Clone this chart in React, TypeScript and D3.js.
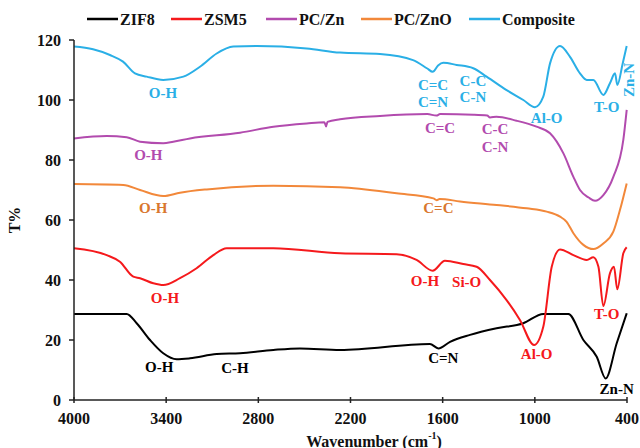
import React from "react";
import * as d3 from "d3";

const seriesNames = ["ZIF8", "ZSM5", "PC/Zn", "PC/ZnO", "Composite"];
const seriesColors = ["#000000", "#F5191C", "#B24BAE", "#F2883A", "#2AAFE6"];
const labelColors = ["#000000", "#F5191C", "#B24BAE", "#D9772F", "#2AAFE6"];

const zif8: [number, number][] = [
  [4000, 28.7], [3657, 28.7], [3592, 25.6], [3505, 20], [3419, 15.6], [3332, 13.6], [3245, 13.9],
  [3071, 15.3], [2919, 15.6], [2702, 16.7], [2529, 17.2], [2268, 16.7], [1683, 18.7], [1628, 17.2],
  [1552, 19.4], [1422, 21.7], [1249, 23.9], [1075, 25.6], [945, 28.7], [782, 28.7], [684, 20],
  [597, 14.4], [539, 7.2], [467, 18.9], [402, 28.9],
];
const zsm5: [number, number][] = [
  [4000, 50.6], [3787, 48.3], [3701, 46.1], [3614, 41.1], [3570, 40.6], [3484, 38.9], [3419, 38.3],
  [3310, 40.6], [3202, 43.9], [3093, 48.3], [3006, 50.6], [2702, 50.6], [2268, 48.9], [1900, 48.6],
  [1770, 46.7], [1665, 43.1], [1585, 46.4], [1466, 45.3], [1379, 44.4], [1292, 40], [1184, 33.3],
  [1097, 26.7], [1005, 18.3], [945, 24.4], [890, 44.4], [836, 50.2], [749, 48.3], [662, 46.7],
  [619, 47.6], [586, 44.4], [554, 31.3], [511, 42.2], [485, 44.4], [463, 36.9], [424, 48.9], [402, 50.9],
];
const pcZn: [number, number][] = [
  [4000, 87.2], [3787, 88], [3657, 87.6], [3570, 86.1], [3419, 85.6], [3354, 86.1], [3245, 87.2],
  [2919, 89.1], [2702, 91.1], [2485, 92.2], [2370, 92.6], [2359, 91.2], [2350, 92.7], [2268, 93.6],
  [2008, 94.7], [1700, 95.3], [1640, 94.8], [1617, 95.3], [1400, 95.1], [1310, 94.8], [1292, 94.2],
  [1250, 94.4], [1119, 93.1], [989, 91.1], [901, 88.9], [814, 82.2], [749, 74.4], [706, 70],
  [650, 67.5], [608, 66.4], [554, 68.3], [489, 74.4], [424, 86.7], [402, 96.7],
];
const pcZnO: [number, number][] = [
  [4000, 72], [3679, 71.7], [3570, 70], [3419, 68], [3310, 69.1], [3136, 70.2], [2702, 71.4],
  [2268, 70.9], [1900, 68.9], [1660, 67.2], [1639, 66.6], [1620, 67], [1487, 66.2], [1249, 65],
  [1053, 63.9], [923, 62.8], [836, 61.1], [793, 59.4], [749, 55.6], [684, 51.7], [619, 50.3],
  [554, 52.2], [489, 56.1], [446, 63.3], [402, 72.2],
];
const composite: [number, number][] = [
  [4000, 117.8], [3876, 116.9], [3766, 115], [3681, 112.8], [3603, 108.9], [3527, 107.8], [3419, 106.7],
  [3288, 107.8], [3180, 111.1], [3071, 115.5], [2963, 117.8], [2811, 118], [2485, 117.2], [2268, 115.8],
  [2008, 115.3], [1793, 113.3], [1700, 110.5], [1665, 109.4], [1630, 111.5], [1596, 112.4], [1509, 111.7],
  [1401, 110.6], [1314, 107.8], [1184, 103.3], [1075, 100], [999, 97.6], [945, 101.1], [901, 112.2],
  [836, 118], [771, 114.4], [706, 108.9], [662, 106.7], [619, 106.7], [554, 101.7], [511, 105.6],
  [478, 108.9], [463, 105], [428, 112.2], [402, 118],
];
const seriesData = [zif8, zsm5, pcZn, pcZnO, composite];

const xTicks = [4000, 3400, 2800, 2200, 1600, 1000, 400];
const yTicks = [0, 20, 40, 60, 80, 100, 120];

// annotation: [text, wavenumber, T%, series index, rotated]
const annotations: [string, number, number, number, boolean][] = [
  ["O-H", 3421, 102.4, 4, false],
  ["C=C", 1663, 105, 4, false],
  ["C=N", 1663, 99.4, 4, false],
  ["C-C", 1403, 106.4, 4, false],
  ["C-N", 1403, 101.1, 4, false],
  ["Al-O", 923, 94.1, 4, false],
  ["T-O", 532, 97.6, 4, false],
  ["Zn-N", 387, 106.7, 4, true],
  ["O-H", 3516, 81.7, 2, false],
  ["C=C", 1617, 90.6, 2, false],
  ["C-C", 1259, 90.2, 2, false],
  ["C-N", 1259, 84.4, 2, false],
  ["O-H", 3484, 63.9, 3, false],
  ["C=C", 1628, 63.9, 3, false],
  ["O-H", 3408, 34.1, 1, false],
  ["O-H", 1715, 39.7, 1, false],
  ["Si-O", 1444, 39.2, 1, false],
  ["Al-O", 988, 15.2, 1, false],
  ["T-O", 532, 28.7, 1, false],
  ["O-H", 3445, 11.1, 0, false],
  ["C-H", 2952, 10.8, 0, false],
  ["C=N", 1596, 13.9, 0, false],
  ["Zn-N", 467, 3.7, 0, false],
];

const W = 640;
const H = 448;
const left = 74;
const right = 627;
const top = 40;
const bottom = 400;
const font = "'Liberation Serif', 'Times New Roman', serif";

export default function App() {
  const x = d3.scaleLinear().domain([4000, 400]).range([left, right]);
  const y = d3.scaleLinear().domain([0, 120]).range([bottom, top]);
  const line = d3
    .line<[number, number]>()
    .x((d) => x(d[0]))
    .y((d) => y(d[1]))
    .curve(d3.curveMonotoneX);

  const legendX = [87, 171, 266, 361, 469];
  return (
    <svg width={W} height={H} style={{ position: "absolute", left: 0, top: 0, background: "#fff" }}
      fontFamily={font} fontWeight="bold">
      {/* legend */}
      {seriesNames.map((n, i) => (
        <g key={n}>
          <line x1={legendX[i]} x2={legendX[i] + 31} y1={19} y2={19} stroke={seriesColors[i]} strokeWidth={2.5} />
          <text x={legendX[i] + 33} y={19} dominantBaseline="central" fontSize={16} fill="#111">{n}</text>
        </g>
      ))}
      {/* series */}
      {seriesData.map((d, i) => (
        <path key={i} d={line(d) || ""} fill="none" stroke={seriesColors[i]} strokeWidth={2} strokeLinejoin="round" />
      ))}
      {/* axes */}
      <line x1={left} x2={left} y1={top} y2={bottom} stroke="#222" strokeWidth={1.5} />
      <line x1={left} x2={right} y1={bottom} y2={bottom} stroke="#222" strokeWidth={1.5} />
      {yTicks.map((t) => (
        <g key={t}>
          <line x1={left - 5} x2={left} y1={y(t)} y2={y(t)} stroke="#222" strokeWidth={1.5} />
          <text x={left - 13} y={y(t)} textAnchor="end" dominantBaseline="central" fontSize={16} fill="#111">{t}</text>
        </g>
      ))}
      {xTicks.map((t, i) => (
        <g key={t}>
          <line x1={x(t)} x2={x(t)} y1={bottom - 3} y2={bottom + 3} stroke="#222" strokeWidth={1.5} />
          <text x={i === xTicks.length - 1 ? 639 : x(t)} y={418} textAnchor={i === xTicks.length - 1 ? "end" : "middle"}
            dominantBaseline="central" fontSize={16} fill="#111">{t}</text>
        </g>
      ))}
      <text x={374} y={441} textAnchor="middle" dominantBaseline="central" fontSize={16} fill="#111">
        Wavenumber (cm<tspan baselineShift="super" fontSize={10}>-1</tspan>)
      </text>
      <text transform={`translate(14,${(top + bottom) / 2}) rotate(-90)`} textAnchor="middle" dominantBaseline="central" fontSize={16} fill="#111">T%</text>
      {/* annotations */}
      {annotations.map(([txt, wn, t, si, rot], k) => (
        <text key={k}
          transform={`translate(${x(wn)},${y(t)})${rot ? " rotate(-90)" : ""}`}
          textAnchor="middle" dominantBaseline="central" fontSize={15} fill={labelColors[si]}>{txt}</text>
      ))}
    </svg>
  );
}
